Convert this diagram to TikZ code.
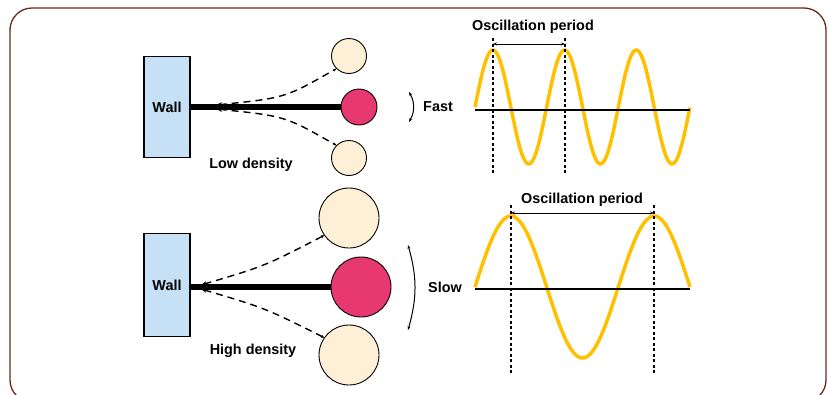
\documentclass[tikz,border=0pt]{standalone}
\usepackage{fontspec}
\setmainfont{Liberation Sans}
\usepackage{tikz}
\usetikzlibrary{arrows.meta,positioning,calc}
\definecolor{WallBlue}{HTML}{C6E0F5}
\definecolor{BallRed}{HTML}{E73872}
\definecolor{BallCream}{HTML}{FEF0D6}
\definecolor{WaveGold}{HTML}{FFC000}
\definecolor{FrameBrown}{HTML}{6B2A17}

\begin{document}
\begin{tikzpicture}[x=1pt,y=-1pt,>=Stealth,font=\bfseries\fontsize{14.4}{16}\selectfont,
  wall/.style={draw,fill=WallBlue,line width=1.2pt,minimum width=46pt,inner sep=0pt},
  ball/.style={circle,draw,line width=0.9pt,inner sep=0pt},
  rod/.style={line width=5.5pt},
  swing/.style={line width=1.4pt,dash pattern=on 7pt off 5pt,
    {Stealth[length=6pt,width=4.5pt]}-{Stealth[length=3pt,width=3pt]}},
  turn/.style={line width=1pt,{Stealth[length=4pt,width=3pt]}-{Stealth[length=4pt,width=3pt]}},
  wave/.style={draw=WaveGold,line width=3.5pt,line join=round},
  axisline/.style={line width=1.8pt},
  guide/.style={line width=1.6pt,dash pattern=on 3pt off 2.5pt},
  span/.style={line width=0.9pt,{Stealth[length=4pt,width=3pt]}-{Stealth[length=4pt,width=3pt]}}]

  \useasboundingbox (0,0) rectangle (828,394);
  \begin{scope}
    \clip (0,0) rectangle (828,394);
    \draw[FrameBrown,line width=1.3pt,rounded corners=22pt] (10,8) rectangle (826,402);
  \end{scope}

  % low density: light balls swing fast
  \node[wall,minimum height=101pt] (wallA) at (167,107) {Wall};
  \node[ball,fill=BallRed,minimum size=36pt] (ballAm) at (359,107) {};
  \node[ball,fill=BallCream,minimum size=35pt] (ballAu) at (349,56) {};
  \node[ball,fill=BallCream,minimum size=35pt] (ballAl) at (349,158) {};
  \draw[rod] (wallA.east) -- (ballAm.west);
  \coordinate (tipAu) at (216,105);
  \coordinate (tipAl) at (216,109);
  \draw[swing] (tipAu) .. controls (285,98) .. (ballAu.225);
  \draw[swing] (tipAl) .. controls (285,116) .. (ballAl.135);
  \node (lowA) at (251,165) {Low density};
  \coordinate (arcAt) at (409,92);
  \coordinate (arcAb) at (409,122);
  \draw[turn] (arcAt) to[bend left=30] (arcAb);
  \node[anchor=west,inner sep=0pt] (fastA) at (423,107) {Fast};

  % high density: heavy balls swing slow
  \node[wall,minimum height=103pt] (wallB) at (167,285) {Wall};
  \node[ball,fill=BallRed,minimum size=60pt] (ballBm) at (361,287) {};
  \node[ball,fill=BallCream,minimum size=60pt] (ballBu) at (349,218) {};
  \node[ball,fill=BallCream,minimum size=60pt] (ballBl) at (349,355) {};
  \draw[rod] (wallB.east |- ballBm.center) -- (ballBm.west);
  \coordinate (tipBu) at (201,285);
  \coordinate (tipBl) at (201,289);
  \draw[swing] (tipBu) .. controls (265,266) .. (ballBu.215);
  \draw[swing] (tipBl) .. controls (265,308) .. (ballBl.145);
  \node (highB) at (253,351) {High density};
  \coordinate (arcBt) at (408,245);
  \coordinate (arcBb) at (408,330);
  \draw[turn] (arcBt) to[bend left=16] (arcBb);
  \node[anchor=west,inner sep=0pt] (slowB) at (428,287) {Slow};

  % waves
  \draw[wave] plot[domain=0:3,samples=151] ({475+71.67*\x},{107-57*sin(360*\x)});
  \draw[axisline] (475,110) -- (690,110);
  \draw[guide] (493,38) -- (493,173);
  \draw[guide] (565,38) -- (565,173);
  \coordinate (perA1) at (493,44);
  \coordinate (perA2) at (565,44);
  \draw[span] (perA1) -- (perA2);
  \node (periodA) at (533,27) {Oscillation period};

  \draw[wave] plot[domain=0:1.5,samples=121] ({475+143.33*\x},{287-71*sin(360*\x)});
  \draw[axisline] (475,289) -- (690,289);
  \draw[guide] (511,205) -- (511,373);
  \draw[guide] (654,205) -- (654,373);
  \coordinate (perB1) at (511,213);
  \coordinate (perB2) at (654,213);
  \draw[span] (perB1) -- (perB2);
  \node (periodB) at (582,200) {Oscillation period};
\end{tikzpicture}
\end{document}
